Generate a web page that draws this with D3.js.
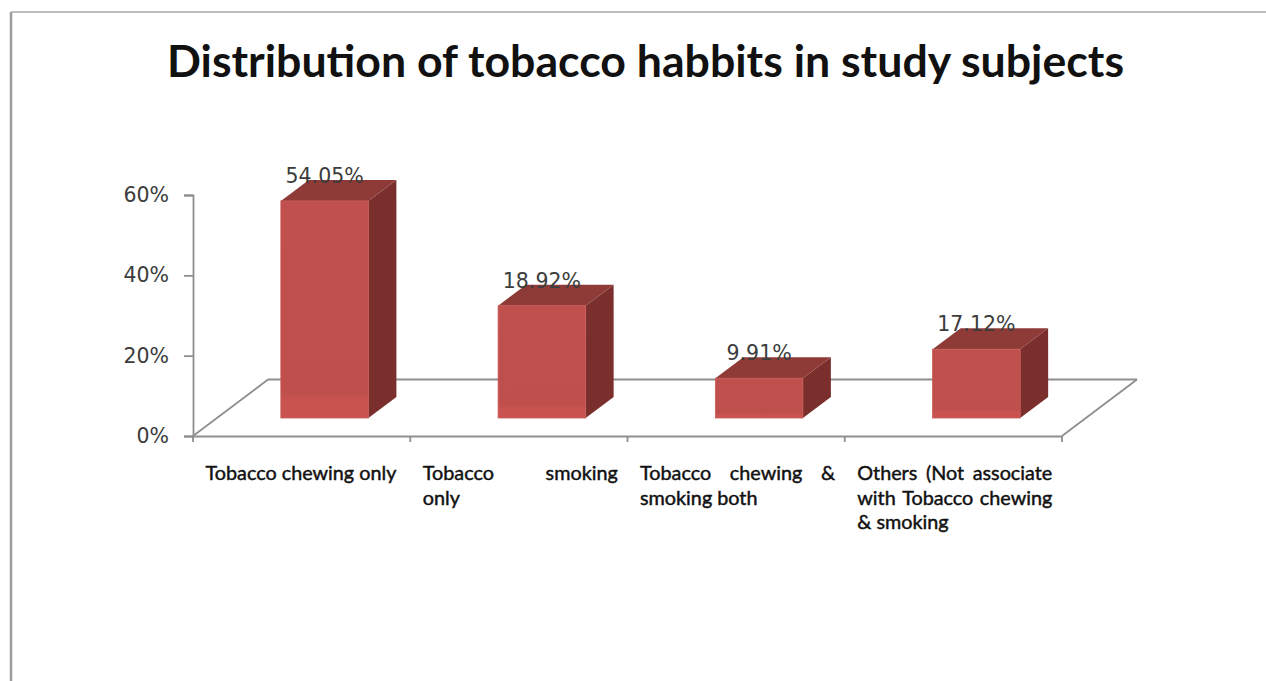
<!DOCTYPE html>
<html><head><meta charset="utf-8">
<script src="https://cdn.jsdelivr.net/npm/d3@7"></script>
<style>html,body{margin:0;padding:0;background:#fff;overflow:hidden}</style>
</head><body><svg id="c" width="1266" height="681"></svg>
<script>
const title = "Distribution of tobacco habbits in study subjects";
const categories = ["Tobacco chewing only", "Tobacco only smoking", "Tobacco chewing & smoking both", "Others (Not associate with Tobacco chewing & smoking"];
const barValues = [54.05, 27.95, 9.91, 17.12];
const dataLabels = ["54.05%", "18.92%", "9.91%", "17.12%"];
const yTicks = [0, 20, 40, 60];
const yTickLabels = ["0%", "20%", "40%", "60%"];
// wrapped category label lines: [text, justified]
const categoryLines = [
  [["Tobacco chewing only", false]],
  [["Tobacco smoking", true], ["only", false]],
  [["Tobacco chewing &", true], ["smoking both", false]],
  [["Others (Not associate", true], ["with Tobacco chewing", true], ["& smoking", false]]
];

const svg = d3.select("#c");
const W = 1266, H = 681;

// layout
const plotLeft = 193, plotRight = 1062, yFront0 = 436, yTop = 195;
const floorDX = 75, floorDY = -56.5;
const barShiftX = 23, barShiftY = -18;   // bar front plane offset from floor front
const barDX = 28, barDY = -21;           // bar depth
const barFrac = 0.403;

const x = d3.scaleBand().domain(categories).range([plotLeft, plotRight]);
const y = d3.scaleLinear().domain([0, 60]).range([yFront0, yTop]);

// chart border
svg.append("line").attr("x1", 11).attr("y1", 12).attr("x2", W).attr("y2", 12)
  .attr("stroke", "#a8a8a8").attr("stroke-width", 1.5);
svg.append("line").attr("x1", 11).attr("y1", 12).attr("x2", 11).attr("y2", H)
  .attr("stroke", "#9c9c9c").attr("stroke-width", 2.5);

// title
svg.append("text").attr("x", 645.5).attr("y", 77).attr("text-anchor", "middle")
  .attr("font-family", "Lato, 'Open Sans', sans-serif").attr("font-weight", "bold")
  .attr("font-size", 43).attr("fill", "#111")
  .attr("textLength", 957).attr("lengthAdjust", "spacingAndGlyphs")
  .text(title);

const gridColor = "#8e8e8e";
// floor
const floor = svg.append("g").attr("stroke", gridColor).attr("stroke-width", 1.8).attr("fill", "none");
floor.append("line").attr("x1", plotLeft + floorDX).attr("y1", y(0) + floorDY).attr("x2", plotRight + floorDX).attr("y2", y(0) + floorDY);
floor.append("line").attr("x1", plotLeft).attr("y1", y(0)).attr("x2", plotLeft + floorDX).attr("y2", y(0) + floorDY);
floor.append("line").attr("x1", plotRight).attr("y1", y(0)).attr("x2", plotRight + floorDX).attr("y2", y(0) + floorDY);

// y axis
const yAxis = d3.axisLeft(y).tickValues(yTicks).tickSize(9).tickPadding(15)
  .tickFormat((d, i) => yTickLabels[i]);
const gy = svg.append("g").attr("transform", `translate(${plotLeft},0)`).call(yAxis);
gy.select(".domain").attr("stroke", gridColor).attr("stroke-width", 1.8);
gy.selectAll(".tick line").attr("stroke", gridColor).attr("stroke-width", 1.8);
gy.selectAll(".tick text").attr("font-family", "'DejaVu Sans', Verdana, sans-serif")
  .attr("font-size", 20.5).attr("fill", "#3c3c3c");

// x axis (front floor edge)
const xAxis = d3.axisBottom(x).tickSize(0).tickFormat("");
const gx = svg.append("g").attr("transform", `translate(0,${y(0)})`).call(xAxis);
gx.select(".domain").attr("stroke", gridColor).attr("stroke-width", 1.8);
const boundaries = categories.map(c => x(c)).concat([x(categories[categories.length - 1]) + x.bandwidth()]);
gx.selectAll("line.cat").data(boundaries).enter().append("line").attr("class", "cat")
  .attr("x1", d => d).attr("x2", d => d).attr("y1", 0).attr("y2", 6)
  .attr("stroke", gridColor).attr("stroke-width", 1.8);

// bars
const defs = svg.append("defs");
const grad = defs.append("linearGradient").attr("id", "front").attr("x1", 0).attr("y1", 0).attr("x2", 0).attr("y2", 1);
grad.append("stop").attr("offset", "0%").attr("stop-color", "#c0504d");
grad.append("stop").attr("offset", "88%").attr("stop-color", "#bf4f4c");
grad.append("stop").attr("offset", "92%").attr("stop-color", "#c9534f");
grad.append("stop").attr("offset", "100%").attr("stop-color", "#c9534f");

const bw = x.bandwidth() * barFrac;
const bars = svg.append("g");
categories.forEach((c, i) => {
  const v = barValues[i];
  const x0 = x(c) + (x.bandwidth() - bw) / 2 + barShiftX;
  const yb = y(0) + barShiftY;
  const yt = y(v) + barShiftY;
  const g = bars.append("g");
  g.append("polygon")
    .attr("points", [[x0 + bw, yt], [x0 + bw + barDX, yt + barDY], [x0 + bw + barDX, yb + barDY], [x0 + bw, yb]].map(p => p.join(",")).join(" "))
    .attr("fill", "#7a2f2d");
  g.append("polygon")
    .attr("points", [[x0, yt], [x0 + bw, yt], [x0 + bw + barDX, yt + barDY], [x0 + barDX, yt + barDY]].map(p => p.join(",")).join(" "))
    .attr("fill", "#8e3b38");
  g.append("rect").attr("x", x0).attr("y", yt).attr("width", bw).attr("height", yb - yt)
    .attr("fill", "url(#front)").attr("stroke", "#c95a57").attr("stroke-width", 0.8);
  svg.append("text").attr("x", x0 + bw / 2).attr("y", yt - 18).attr("text-anchor", "middle")
    .attr("font-family", "'DejaVu Sans', Verdana, sans-serif").attr("font-size", 20.5)
    .attr("fill", "#3c3c3c").text(dataLabels[i]);
});

// category labels
const labFont = "Lato, 'Open Sans', sans-serif", labSize = 19.8;
const blockOffset = 12.5, blockWidth = 195;
const lineBase = 480, lineStep = 24.5;
const measurer = svg.append("text").attr("font-family", labFont).attr("font-size", labSize).attr("visibility", "hidden");
function textW(t) { measurer.text(t); return measurer.node().getComputedTextLength(); }
const labels = svg.append("g").attr("font-family", labFont).attr("font-size", labSize)
  .attr("fill", "#111").attr("stroke", "#111").attr("stroke-width", 0.45);
categories.forEach((c, i) => {
  const left = x(c) + blockOffset;
  categoryLines[i].forEach(([line, just], j) => {
    const yy = lineBase + j * lineStep;
    const words = line.split(" ");
    if (just && words.length > 1) {
      const widths = words.map(textW);
      const gap = (blockWidth - d3.sum(widths)) / (words.length - 1);
      let cx = left;
      words.forEach((w, k) => {
        labels.append("text").attr("x", cx).attr("y", yy).text(w);
        cx += widths[k] + gap;
      });
    } else {
      labels.append("text").attr("x", left).attr("y", yy).text(line);
    }
  });
});
measurer.remove();
</script></body></html>
